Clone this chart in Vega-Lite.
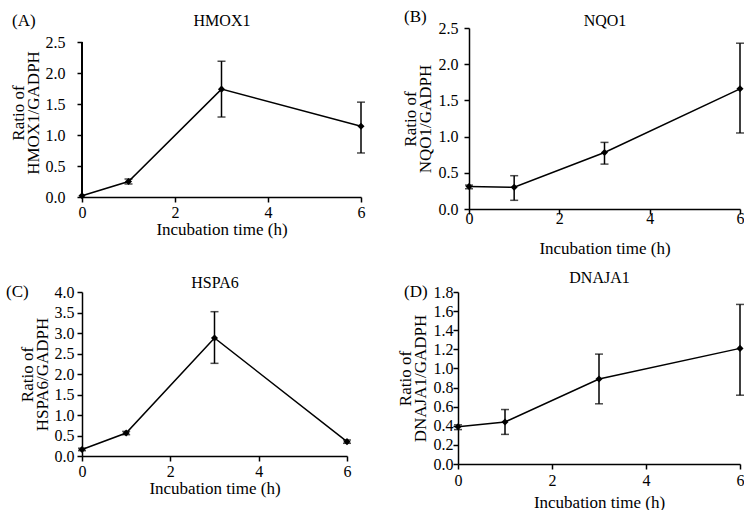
{
  "$schema": "https://vega.github.io/schema/vega-lite/v6.json",
  "padding": {"left": 6, "top": 8, "right": 0, "bottom": 0},
  "background": "white",
  "config": {
    "font": "Liberation Serif",
    "view": {"stroke": null},
    "axis": {
      "grid": false,
      "domainColor": "black",
      "domainWidth": 1.5,
      "tickColor": "black",
      "tickWidth": 1.5,
      "tickSize": 5,
      "labelFont": "Liberation Serif",
      "labelFontSize": 16,
      "labelColor": "black",
      "labelFlush": false,
      "labelPadding": 4,
      "titleFont": "Liberation Serif",
      "titleFontSize": 17,
      "titleFontWeight": "normal",
      "titleColor": "black",
      "titleLineHeight": 15
    },
    "title": {"font": "Liberation Serif", "fontSize": 17, "fontWeight": "normal", "color": "black"}
  },
  "data": {
    "values": [
      {"gene": "HMOX1", "t": 0, "mean": 0.02, "lo": null, "hi": null},
      {"gene": "HMOX1", "t": 1, "mean": 0.25, "lo": 0.21, "hi": 0.29},
      {"gene": "HMOX1", "t": 3, "mean": 1.74, "lo": 1.29, "hi": 2.19},
      {"gene": "HMOX1", "t": 6, "mean": 1.14, "lo": 0.71, "hi": 1.53},
      {"gene": "NQO1", "t": 0, "mean": 0.31, "lo": 0.28, "hi": 0.33},
      {"gene": "NQO1", "t": 1, "mean": 0.30, "lo": 0.12, "hi": 0.46},
      {"gene": "NQO1", "t": 3, "mean": 0.78, "lo": 0.62, "hi": 0.92},
      {"gene": "NQO1", "t": 6, "mean": 1.66, "lo": 1.05, "hi": 2.29},
      {"gene": "HSPA6", "t": 0, "mean": 0.16, "lo": 0.13, "hi": 0.19},
      {"gene": "HSPA6", "t": 1, "mean": 0.56, "lo": 0.52, "hi": 0.60},
      {"gene": "HSPA6", "t": 3, "mean": 2.88, "lo": 2.26, "hi": 3.52},
      {"gene": "HSPA6", "t": 6, "mean": 0.35, "lo": 0.31, "hi": 0.39},
      {"gene": "DNAJA1", "t": 0, "mean": 0.39, "lo": 0.36, "hi": 0.41},
      {"gene": "DNAJA1", "t": 1, "mean": 0.44, "lo": 0.31, "hi": 0.57},
      {"gene": "DNAJA1", "t": 3, "mean": 0.89, "lo": 0.63, "hi": 1.15},
      {"gene": "DNAJA1", "t": 6, "mean": 1.21, "lo": 0.72, "hi": 1.67}
    ]
  },
  "spacing": 13,
  "vconcat": [
    {
      "spacing": 36,
      "hconcat": [
        {
          "width": 279, "height": 169,
          "transform": [{"filter": "datum.gene === 'HMOX1'"}],
          "title": {"text": "(A)", "anchor": "start", "frame": "bounds", "offset": -18, "dx": 3},
          "resolve": {"axis": {"x": "independent", "y": "independent"}},
          "layer": [
            {"mark": {"type": "line", "color": "black", "strokeWidth": 1.5},
             "encoding": {
               "x": {"field": "t", "type": "quantitative", "scale": {"domain": [0, 6], "nice": false}, "axis": {"title": "Incubation time (h)", "values": [0, 2, 4, 6], "labelPadding": 2, "titlePadding": 1}},
               "y": {"field": "mean", "type": "quantitative", "scale": {"domain": [0, 2.726], "nice": false}, "axis": {"title": ["Ratio of", "HMOX1/GADPH"], "values": [0, 0.5, 1, 1.5, 2, 2.5], "format": ".1f", "domain": false, "labelPadding": 12, "titlePadding": 3}}}},
            {"mark": {"type": "rule", "color": "black", "strokeWidth": 1.5},
             "encoding": {
               "x": {"datum": 0, "type": "quantitative", "scale": {"domain": [0, 6], "nice": false}, "axis": null},
               "y": {"datum": 0, "type": "quantitative", "scale": {"domain": [0, 2.726], "nice": false}, "axis": null},
               "y2": {"datum": 2.5}}},
            {"transform": [{"filter": "isValid(datum.lo)"}],
             "mark": {"type": "errorbar", "color": "black", "thickness": 1.5, "ticks": {"size": 8, "thickness": 1.5, "color": "black"}},
             "encoding": {
               "x": {"field": "t", "type": "quantitative", "scale": {"domain": [0, 6], "nice": false}, "axis": null},
               "y": {"field": "lo", "type": "quantitative", "scale": {"domain": [0, 2.726], "nice": false}, "axis": null},
               "y2": {"field": "hi"}}},
            {"mark": {"type": "point", "shape": "diamond", "filled": true, "color": "black", "size": 50, "opacity": 1},
             "encoding": {
               "x": {"field": "t", "type": "quantitative", "scale": {"domain": [0, 6], "nice": false}, "axis": {"orient": "top", "title": "HMOX1", "titleFontSize": 16, "labels": false, "ticks": false, "domain": false, "titlePadding": 0}},
               "y": {"field": "mean", "type": "quantitative", "scale": {"domain": [0, 2.726], "nice": false}, "axis": null}}}
          ]
        },
        {
          "width": 271, "height": 181,
          "transform": [{"filter": "datum.gene === 'NQO1'"}],
          "title": {"text": "(B)", "anchor": "start", "frame": "bounds", "offset": -14, "dx": 3},
          "resolve": {"axis": {"x": "independent", "y": "independent"}},
          "layer": [
            {"mark": {"type": "line", "color": "black", "strokeWidth": 1.5},
             "encoding": {
               "x": {"field": "t", "type": "quantitative", "scale": {"domain": [0, 6], "nice": false}, "axis": {"title": "Incubation time (h)", "values": [0, 2, 4, 6], "labelPadding": -4, "titlePadding": 14}},
               "y": {"field": "mean", "type": "quantitative", "scale": {"domain": [0, 2.5], "nice": false}, "axis": {"title": ["Ratio of", "NQO1/GADPH"], "values": [0, 0.5, 1, 1.5, 2, 2.5], "format": ".1f", "labelPadding": 6, "titlePadding": 4}}}},
            {"transform": [{"filter": "isValid(datum.lo)"}],
             "mark": {"type": "errorbar", "color": "black", "thickness": 1.5, "ticks": {"size": 8, "thickness": 1.5, "color": "black"}},
             "encoding": {
               "x": {"field": "t", "type": "quantitative", "scale": {"domain": [0, 6], "nice": false}, "axis": null},
               "y": {"field": "lo", "type": "quantitative", "scale": {"domain": [0, 2.5], "nice": false}, "axis": null},
               "y2": {"field": "hi"}}},
            {"mark": {"type": "point", "shape": "diamond", "filled": true, "color": "black", "size": 50, "opacity": 1},
             "encoding": {
               "x": {"field": "t", "type": "quantitative", "scale": {"domain": [0, 6], "nice": false}, "axis": {"orient": "top", "title": "NQO1", "titleFontSize": 16, "labels": false, "ticks": false, "domain": false, "titlePadding": 0}},
               "y": {"field": "mean", "type": "quantitative", "scale": {"domain": [0, 2.5], "nice": false}, "axis": null}}}
          ]
        }
      ]
    },
    {
      "spacing": 45,
      "hconcat": [
        {
          "width": 265, "height": 164,
          "transform": [{"filter": "datum.gene === 'HSPA6'"}],
          "title": {"text": "(C)", "anchor": "start", "frame": "bounds", "offset": -27, "dx": -12},
          "resolve": {"axis": {"x": "independent", "y": "independent"}},
          "layer": [
            {"mark": {"type": "line", "color": "black", "strokeWidth": 1.5},
             "encoding": {
               "x": {"field": "t", "type": "quantitative", "scale": {"domain": [0, 6], "nice": false}, "axis": {"title": "Incubation time (h)", "values": [0, 2, 4, 6], "labelPadding": 2, "titlePadding": 1}},
               "y": {"field": "mean", "type": "quantitative", "scale": {"domain": [0, 4], "nice": false}, "axis": {"title": ["Ratio of", "HSPA6/GADPH"], "values": [0, 0.5, 1, 1.5, 2, 2.5, 3, 3.5, 4], "format": ".1f", "labelPadding": 3, "titlePadding": 3}}}},
            {"transform": [{"filter": "isValid(datum.lo)"}],
             "mark": {"type": "errorbar", "color": "black", "thickness": 1.5, "ticks": {"size": 8, "thickness": 1.5, "color": "black"}},
             "encoding": {
               "x": {"field": "t", "type": "quantitative", "scale": {"domain": [0, 6], "nice": false}, "axis": null},
               "y": {"field": "lo", "type": "quantitative", "scale": {"domain": [0, 4], "nice": false}, "axis": null},
               "y2": {"field": "hi"}}},
            {"mark": {"type": "point", "shape": "diamond", "filled": true, "color": "black", "size": 50, "opacity": 1},
             "encoding": {
               "x": {"field": "t", "type": "quantitative", "scale": {"domain": [0, 6], "nice": false}, "axis": {"orient": "top", "title": "HSPA6", "titleFontSize": 16, "labels": false, "ticks": false, "domain": false, "titlePadding": 2}},
               "y": {"field": "mean", "type": "quantitative", "scale": {"domain": [0, 4], "nice": false}, "axis": null}}}
          ]
        },
        {
          "width": 282, "height": 172,
          "transform": [{"filter": "datum.gene === 'DNAJA1'"}],
          "title": {"text": "(D)", "anchor": "start", "frame": "bounds", "offset": -32, "dx": 8},
          "resolve": {"axis": {"x": "independent", "y": "independent"}},
          "layer": [
            {"mark": {"type": "line", "color": "black", "strokeWidth": 1.5},
             "encoding": {
               "x": {"field": "t", "type": "quantitative", "scale": {"domain": [0, 6], "nice": false}, "axis": {"title": "Incubation time (h)", "values": [0, 2, 4, 6], "labelPadding": 3, "titlePadding": 6}},
               "y": {"field": "mean", "type": "quantitative", "scale": {"domain": [0, 1.8], "nice": false}, "axis": {"title": ["Ratio of", "DNAJA1/GADPH"], "values": [0, 0.2, 0.4, 0.6, 0.8, 1, 1.2, 1.4, 1.6, 1.8], "format": ".1f", "labelPadding": 0, "titlePadding": 4}}}},
            {"transform": [{"filter": "isValid(datum.lo)"}],
             "mark": {"type": "errorbar", "color": "black", "thickness": 1.5, "ticks": {"size": 8, "thickness": 1.5, "color": "black"}},
             "encoding": {
               "x": {"field": "t", "type": "quantitative", "scale": {"domain": [0, 6], "nice": false}, "axis": null},
               "y": {"field": "lo", "type": "quantitative", "scale": {"domain": [0, 1.8], "nice": false}, "axis": null},
               "y2": {"field": "hi"}}},
            {"mark": {"type": "point", "shape": "diamond", "filled": true, "color": "black", "size": 50, "opacity": 1},
             "encoding": {
               "x": {"field": "t", "type": "quantitative", "scale": {"domain": [0, 6], "nice": false}, "axis": {"orient": "top", "title": "DNAJA1", "titleFontSize": 16, "labels": false, "ticks": false, "domain": false, "titlePadding": 7}},
               "y": {"field": "mean", "type": "quantitative", "scale": {"domain": [0, 1.8], "nice": false}, "axis": null}}}
          ]
        }
      ]
    }
  ]
}
